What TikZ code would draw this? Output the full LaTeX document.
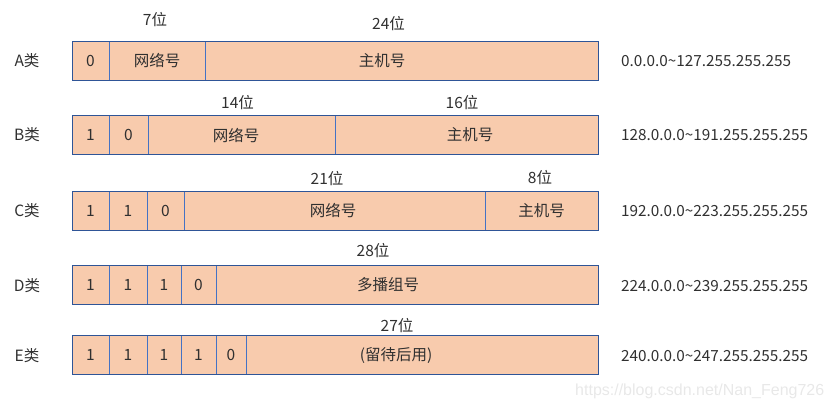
\documentclass[tikz,border=0pt]{standalone}
\usepackage{fontspec}
\setmainfont{Noto Sans CJK SC}
\newfontfamily\markfont{Liberation Sans}
\usetikzlibrary{positioning}

\definecolor{cellfill}{HTML}{F8CBAD}
\definecolor{cellline}{HTML}{4472C4}
\definecolor{boxline}{HTML}{2F5597}
\definecolor{textgray}{HTML}{303030}

\tikzset{
  cell/.style={draw=cellline, fill=cellfill, line width=0.8pt, minimum height=39pt,
    inner sep=0pt, outer sep=0pt, anchor=west, text=textgray},
  frame/.style={draw=boxline, line width=0.9pt},
  lbl/.style={text=textgray, inner sep=0pt},
  iprange/.style={lbl, anchor=west, font=\fontsize{15.3}{17}\selectfont},
}

\begin{document}
\begin{tikzpicture}[x=1pt, y=-1pt, font=\fontsize{15.5}{17}\selectfont]
  \useasboundingbox (0,0) rectangle (832,408);

  % class A
  \node[lbl] (aname) at (27,61) {A类};
  \node[cell, minimum width=37pt] (a0) at (72,60.5) {0};
  \node[cell, minimum width=96pt, right=0pt of a0] (a1) {网络号};
  \node[cell, minimum width=393pt, right=0pt of a1] (a2) {};
  \node[lbl] (a2text) at (382,60.5) {主机号};
  \draw[frame] (a0.north west) rectangle (a2.south east);
  \node[lbl] (a1bits) at (155,20) {7位};
  \node[lbl] (a2bits) at (388.5,24) {24位};
  \node[iprange] (arange) at (621,61) {0.0.0.0\textasciitilde127.255.255.255};

  % class B
  \node[lbl] (bname) at (27,135) {B类};
  \node[cell, minimum width=37pt] (b0) at (72,135) {1};
  \node[cell, minimum width=39pt, right=0pt of b0] (b1) {0};
  \node[cell, minimum width=187pt, right=0pt of b1] (b2) {};
  \node[cell, minimum width=263pt, right=0pt of b2] (b3) {};
  \node[lbl] (b2text) at (236,135) {网络号};
  \node[lbl] (b3text) at (470,135) {主机号};
  \draw[frame] (b0.north west) rectangle (b3.south east);
  \node[lbl] (b2bits) at (237.5,103) {14位};
  \node[lbl] (b3bits) at (462,103) {16位};
  \node[iprange] (brange) at (621,135) {128.0.0.0\textasciitilde191.255.255.255};

  % class C
  \node[lbl] (cname) at (27,211) {C类};
  \node[cell, minimum width=37pt] (c0) at (72,210.5) {1};
  \node[cell, minimum width=38pt, right=0pt of c0] (c1) {1};
  \node[cell, minimum width=37pt, right=0pt of c1] (c2) {0};
  \node[cell, minimum width=301pt, right=0pt of c2] (c3) {};
  \node[cell, minimum width=113pt, right=0pt of c3] (c4) {主机号};
  \node[lbl] (c3text) at (333,210.5) {网络号};
  \draw[frame] (c0.north west) rectangle (c4.south east);
  \node[lbl] (c3bits) at (327,179) {21位};
  \node[lbl] (c4bits) at (540,178) {8位};
  \node[iprange] (crange) at (621,211) {192.0.0.0\textasciitilde223.255.255.255};

  % class D
  \node[lbl] (dname) at (27,286) {D类};
  \node[cell, minimum width=37pt] (d0) at (72,285) {1};
  \node[cell, minimum width=38pt, right=0pt of d0] (d1) {1};
  \node[cell, minimum width=34pt, right=0pt of d1] (d2) {1};
  \node[cell, minimum width=35pt, right=0pt of d2] (d3) {0};
  \node[cell, minimum width=382pt, right=0pt of d3] (d4) {};
  \node[lbl] (d4text) at (388,285) {多播组号};
  \draw[frame] (d0.north west) rectangle (d4.south east);
  \node[lbl] (d4bits) at (373,251) {28位};
  \node[iprange] (drange) at (621,286) {224.0.0.0\textasciitilde239.255.255.255};

  % class E
  \node[lbl] (ename) at (27,356) {E类};
  \node[cell, minimum width=37pt] (e0) at (72,355) {1};
  \node[cell, minimum width=38pt, right=0pt of e0] (e1) {1};
  \node[cell, minimum width=34pt, right=0pt of e1] (e2) {1};
  \node[cell, minimum width=35pt, right=0pt of e2] (e3) {1};
  \node[cell, minimum width=30pt, right=0pt of e3] (e4) {0};
  \node[cell, minimum width=352pt, right=0pt of e4] (e5) {};
  \node[lbl] (e5text) at (396,356) {(留待后用)};
  \draw[frame] (e0.north west) rectangle (e5.south east);
  \node[lbl] (e5bits) at (397,326) {27位};
  \node[iprange] (erange) at (621,356) {240.0.0.0\textasciitilde247.255.255.255};

  \node[anchor=west, inner sep=0pt, text=black!9, font=\markfont\fontsize{16}{18}\selectfont]
    (mark) at (575,391) {https://blog.csdn.net/Nan\_Feng726};
\end{tikzpicture}
\end{document}
